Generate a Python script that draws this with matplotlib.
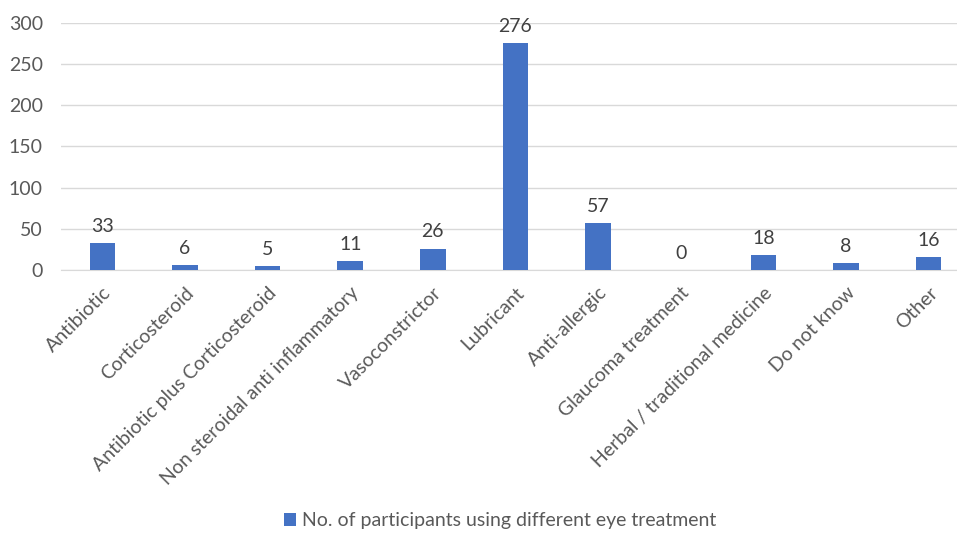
import matplotlib
matplotlib.use('Agg')
import matplotlib.pyplot as plt
import numpy as np

plt.rcParams['font.family'] = ['Lato', 'DejaVu Sans']

categories = ['Antibiotic', 'Corticosteroid', 'Antibiotic plus Corticosteroid',
              'Non steroidal anti inflammatory', 'Vasoconstrictor', 'Lubricant',
              'Anti-allergic', 'Glaucoma treatment', 'Herbal / traditional medicine',
              'Do not know', 'Other']
counts = [33, 6, 5, 11, 26, 276, 57, 0, 18, 8, 16]
yticks = [0, 50, 100, 150, 200, 250, 300]
series_name = 'No. of participants using different eye treatment'

text_col = '#595959'
bar_col = '#4472C4'

fig = plt.figure(figsize=(9.57, 5.35), dpi=100)
ax = fig.add_axes([61/957, 1-270/535, 909/957, 247/535])

x = np.arange(len(categories))
bars = ax.bar(x, counts, width=0.31, color=bar_col, label=series_name, zorder=3)
for xi, v in zip(x, counts):
    ax.text(xi, v + 10, str(v), ha='center', va='bottom', fontsize=14, color='#404040')

ax.set_xlim(-0.5, len(categories) - 0.5)
ax.set_ylim(0, 300)
ax.set_yticks(yticks)
ax.yaxis.grid(True, color='#D9D9D9', linewidth=1, zorder=0)
ax.set_xticks(x)
ax.set_xticklabels(categories, rotation=45, ha='right', rotation_mode='anchor',
                   fontsize=14, color=text_col)
ax.tick_params(axis='both', length=0, labelsize=14, colors=text_col)
ax.tick_params(axis='x', pad=10)
ax.tick_params(axis='y', pad=13)
for s in ['top', 'right', 'left']:
    ax.spines[s].set_visible(False)
ax.spines['bottom'].set_color('#D9D9D9')

fig.legend(handles=[bars], labels=[series_name], loc='lower center',
           bbox_to_anchor=(500/957, -0.022), frameon=False, fontsize=14,
           handlelength=0.6, handleheight=0.6, handletextpad=0.3,
           labelcolor=text_col)

fig.savefig('out.png', dpi=100)
